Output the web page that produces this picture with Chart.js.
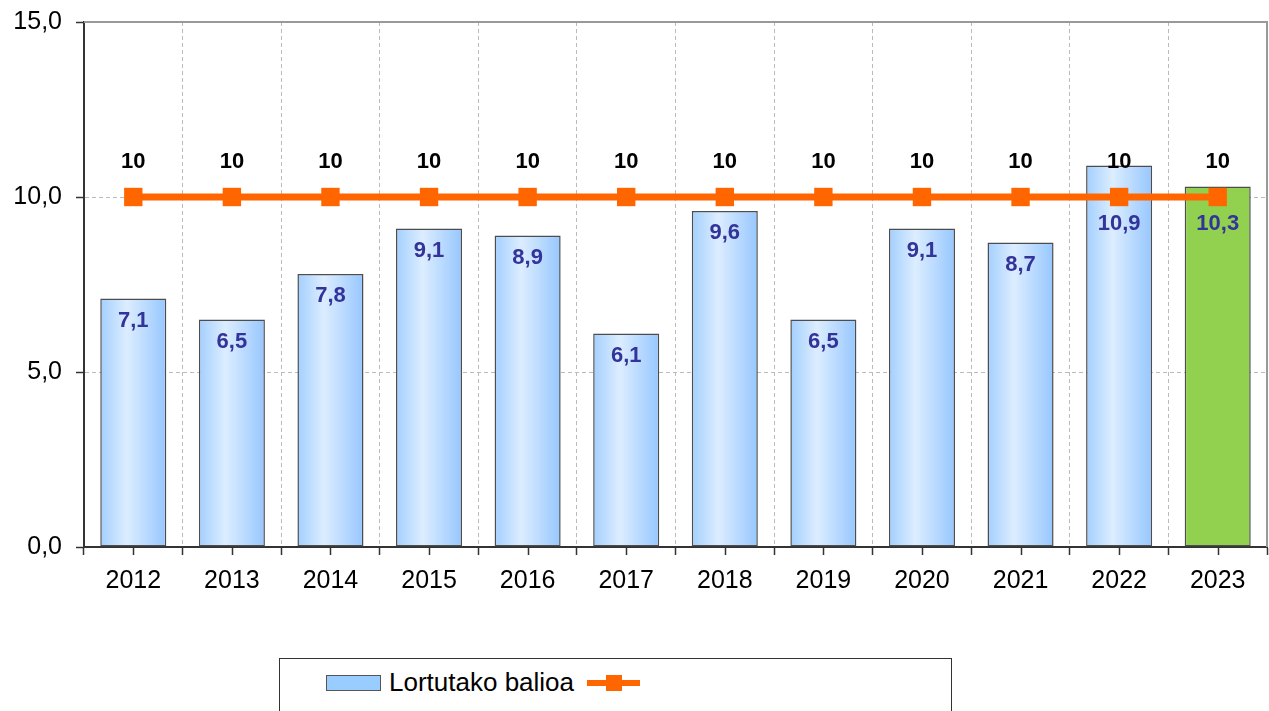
<!DOCTYPE html>
<html>
<head>
<meta charset="utf-8">
<script src="https://cdn.jsdelivr.net/npm/chart.js@4"></script>
<style>
  body { margin: 0; background: #fff; font-family: "Liberation Sans", Arial, sans-serif; }
  #wrap { position: relative; width: 1269px; height: 711px; overflow: hidden; }
  #legend { position: absolute; left: 279px; top: 658px; width: 671px; height: 80px;
            border: 1px solid #333; background: #fff; }
  .sw { position: absolute; left: 46px; top: 16px; width: 53px; height: 14px;
        background: #99ccff; border: 1px solid #555; }
  .txt { position: absolute; left: 109px; top: 8px; font-size: 26px; color: #000; white-space: nowrap; }
  .ln { position: absolute; left: 307px; top: 21px; width: 53px; height: 6px; background: #ff6600; }
  .mk { position: absolute; left: 326px; top: 16px; width: 16px; height: 16px; background: #ff6600; }
</style>
</head>
<body>
<div id="wrap">
  <canvas id="chart" width="1269" height="711"></canvas>
  <div id="legend">
    <div class="sw"></div>
    <div class="txt">Lortutako balioa</div>
    <div class="ln"></div>
    <div class="mk"></div>
  </div>
</div>
<script>
var years = ["2012", "2013", "2014", "2015", "2016", "2017", "2018", "2019", "2020", "2021", "2022", "2023"];
var achieved = [7.1, 6.5, 7.8, 9.1, 8.9, 6.1, 9.6, 6.5, 9.1, 8.7, 10.9, 10.3];
var target = [10, 10, 10, 10, 10, 10, 10, 10, 10, 10, 10, 10];

function fmt(v) {
  return v.toFixed(1).replace(".", ",");
}

function barFill(c) {
  if (c.dataIndex === years.length - 1) return "#92d050";
  var xs = c.chart.scales.x;
  if (xs === undefined || c.dataIndex === undefined) return "#a6d0ff";
  var cx = xs.getPixelForValue(c.dataIndex);
  var hw = (xs.width / years.length) * 0.67 / 2;
  if (!isFinite(cx) || !isFinite(hw) || hw <= 0) return "#a6d0ff";
  var g = c.chart.ctx.createLinearGradient(cx - hw, 0, cx + hw, 0);
  g.addColorStop(0, "#a3cfff");
  g.addColorStop(0.4, "#dcedff");
  g.addColorStop(1, "#97c7ff");
  return g;
}

var extras = {
  id: "extras",
  beforeDatasetsDraw: function (chart) {
    var ctx = chart.ctx, a = chart.chartArea;
    ctx.save();
    ctx.strokeStyle = "#999";
    ctx.lineWidth = 2;
    ctx.beginPath();
    ctx.moveTo(a.left, a.top);
    ctx.lineTo(a.right, a.top);
    ctx.lineTo(a.right, a.bottom);
    ctx.stroke();
    // tick marks at category centres
    var xs = chart.scales.x;
    ctx.strokeStyle = "#333";
    ctx.lineWidth = 1.5;
    ctx.beginPath();
    for (var i = 0; i < years.length; i++) {
      var x = Math.round(xs.getPixelForValue(i)) + 0.5;
      ctx.moveTo(x, a.bottom);
      ctx.lineTo(x, a.bottom + 8);
    }
    ctx.stroke();
    ctx.restore();
  },
  afterDatasetsDraw: function (chart) {
    var ctx = chart.ctx;
    var linePts = chart.getDatasetMeta(0).data;
    ctx.save();
    ctx.textAlign = "center";
    ctx.textBaseline = "middle";
    ctx.font = "bold 22px 'Liberation Sans', Arial";
    chart.getDatasetMeta(1).data.forEach(function (el, i) {
      var y = el.y + 22;
      // keep the value clear of the target line
      if (Math.abs(y - linePts[i].y) < 20) y = linePts[i].y + 27;
      ctx.fillStyle = "#333399";
      ctx.fillText(fmt(achieved[i]), el.x, y);
    });
    linePts.forEach(function (el, i) {
      ctx.fillStyle = "#000";
      ctx.fillText(String(target[i]), el.x, el.y - 35);
    });
    ctx.restore();
  }
};

new Chart(document.getElementById("chart").getContext("2d"), {
  data: {
    labels: years,
    datasets: [
      {
        type: "line",
        label: "",
        data: target,
        borderColor: "#ff6600",
        borderWidth: 7,
        pointStyle: "rect",
        pointRadius: 13,
        pointBorderWidth: 0,
        pointBackgroundColor: "#ff6600",
        order: 1
      },
      {
        type: "bar",
        label: "Lortutako balioa",
        data: achieved,
        backgroundColor: barFill,
        borderColor: "#4d4d4d",
        borderWidth: 1.5,
        borderSkipped: false,
        barPercentage: 0.67,
        categoryPercentage: 1,
        order: 2
      }
    ]
  },
  options: {
    responsive: false,
    devicePixelRatio: 1,
    animation: false,
    layout: { autoPadding: false, padding: { top: 22, right: 2, left: 0, bottom: 0 } },
    plugins: { legend: { display: false }, tooltip: { enabled: false } },
    scales: {
      x: {
        offset: true,
        grid: { offset: true, color: "#bbb", tickColor: "#333", tickLength: 8, tickWidth: 1.5 },
        border: { color: "#333", width: 2, dash: [4, 3] },
        ticks: { color: "#000", font: { size: 25, family: "'Liberation Sans', Arial" }, padding: 11 },
        afterFit: function (s) { s.height = 164; s.paddingLeft = 0; s.paddingRight = 0; }
      },
      y: {
        min: 0,
        max: 15,
        ticks: {
          stepSize: 5,
          color: "#000",
          padding: 14,
          font: { size: 25, family: "'Liberation Sans', Arial" },
          callback: function (v) { return fmt(v); }
        },
        grid: { color: "#bbb", tickColor: "#333", tickLength: 8, tickWidth: 1.5 },
        border: { color: "#333", width: 2, dash: [4, 3] },
        afterFit: function (s) { s.width = 84; s.paddingTop = 0; s.paddingBottom = 0; }
      }
    }
  },
  plugins: [extras]
});
</script>
</body>
</html>
